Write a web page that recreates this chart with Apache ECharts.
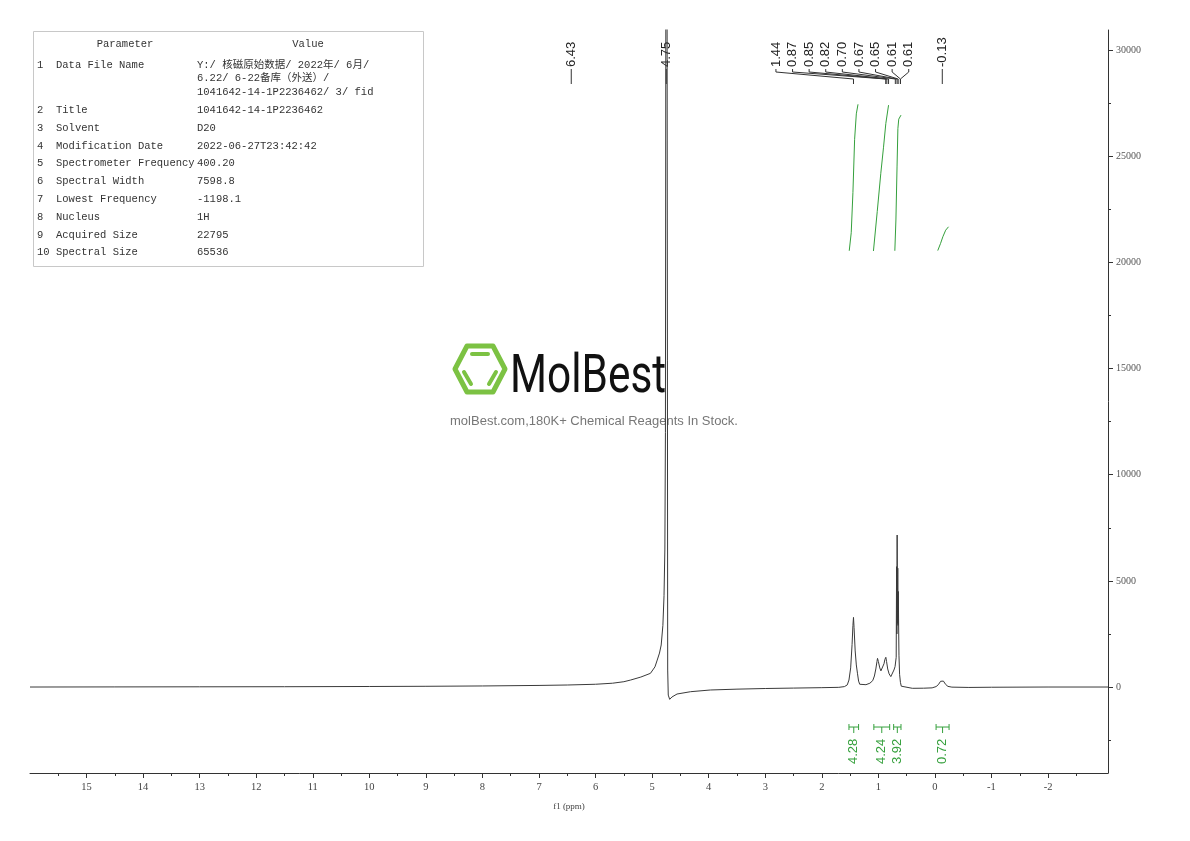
<!DOCTYPE html>
<html>
<head>
<meta charset="utf-8">
<script src="https://cdn.jsdelivr.net/npm/echarts@6/dist/echarts.min.js"></script>
<style>
  html, body { margin: 0; padding: 0; background: #fff; }
  #main { width: 1190px; height: 841px; }
</style>
</head>
<body>
<div id="main"></div>
<script>
// 1H trace: chemical shift (ppm) and intensity
const shift = [
  16.0, 14.5, 13.0, 11.5, 10.0, 9.0, 8.0, 7.0, 6.5, 6.0, 5.7, 5.5, 5.38, 5.2, 5.03, 4.95, 4.91, 4.87, 4.84,
  4.81, 4.79, 4.775, 4.765, 4.755, 4.748, 4.742, 4.735, 4.725, 4.715, 4.69, 4.65, 4.56, 4.32, 3.97, 3.5,
  3.0, 2.5, 2.0, 1.7, 1.6, 1.55, 1.52, 1.49, 1.465, 1.45, 1.44, 1.43, 1.41, 1.39, 1.37, 1.35, 1.33, 1.30,
  1.22, 1.15, 1.10, 1.07, 1.045, 1.025, 1.015, 1.00, 0.975, 0.955, 0.94, 0.92, 0.90, 0.885, 0.868, 0.855,
  0.835, 0.81, 0.78, 0.75, 0.725, 0.705, 0.695, 0.685, 0.678, 0.673, 0.668, 0.662, 0.657, 0.652, 0.647,
  0.642, 0.636, 0.625, 0.61, 0.595, 0.56, 0.4, 0.2, 0.05, -0.02, -0.06, -0.10, -0.125, -0.15, -0.19,
  -0.23, -0.3, -0.6, -1.0, -2.0, -3.06
]
const intensity = [
  0, 5, 10, 15, 25, 35, 50, 75, 95, 130, 180, 250, 330, 470, 645, 950, 1270, 1600, 1980,
  2900, 4300, 6500, 12000, 40000, 200000, 200000, 30000, 800, -380, -580, -470, -330, -220, -140, -100,
  -70, -50, -30, -15, 20, 100, 330, 900, 2000, 2900, 3280, 2800, 1700, 1040, 650, 280, 130, 80,
  110, 180, 300, 520, 850, 1200, 1350, 1200, 900, 760, 720, 850, 1100, 1300, 1400, 1200,
  850, 620, 490, 560, 800, 960, 900, 1400, 5670, 2500, 7160, 3000, 5600, 2900, 4500,
  2920, 1500, 600, 220, 40, -50, -60, -55, -40, 20, 110, 270, 330, 280, 120,
  30, -5, -20, -10, 0, 0
]

// integral curves (green traces above the peaks)
const int1Shift = [1.515, 1.48, 1.45, 1.42, 1.39, 1.36]
const int1Height = [20550, 21400, 23300, 25800, 27000, 27450]
const int2Shift = [1.087, 1.02, 0.957, 0.91, 0.868, 0.82]
const int2Height = [20540, 22400, 24200, 25400, 26550, 27410]
const int3Shift = [0.709, 0.69, 0.67, 0.655, 0.64, 0.60]
const int3Height = [20550, 22000, 24500, 26300, 26750, 26940]
const int4Shift = [-0.05, -0.10, -0.14, -0.19, -0.24]
const int4Height = [20560, 20900, 21210, 21520, 21680]

// integration regions and their values
const integFrom = [1.52, 1.08, 0.73, -0.02]
const integTo = [1.35, 0.80, 0.60, -0.25]
const integValue = ['4.28', '4.24', '3.92', '0.72']

// peak picking labels
const peakLabels = ['6.43', '4.75', '1.44', '0.87', '0.85', '0.82', '0.70', '0.67', '0.65', '0.61', '0.61', '-0.13']

// axis ticks
const ppmTicks = [15, 14, 13, 12, 11, 10, 9, 8, 7, 6, 5, 4, 3, 2, 1, 0, -1, -2]
const ppmMinorTicks = [15.5, 14.5, 13.5, 12.5, 11.5, 10.5, 9.5, 8.5, 7.5, 6.5, 5.5, 4.5, 3.5, 2.5, 1.5, 0.5, -0.5, -1.5, -2.5]
const intTicks = [0, 5000, 10000, 15000, 20000, 25000, 30000]
const intMinorTicks = [-2500, 2500, 7500, 12500, 17500, 22500, 27500]

// parameter table
const paramNames = ['Data File Name', 'Title', 'Solvent', 'Modification Date', 'Spectrometer Frequency',
  'Spectral Width', 'Lowest Frequency', 'Nucleus', 'Acquired Size', 'Spectral Size']
const paramValues = [
  'Y:/ 核磁原始数据/ 2022年/ 6月/\n6.22/ 6-22备库（外送）/\n1041642-14-1P2236462/ 3/ fid',
  '1041642-14-1P2236462', 'D20', '2022-06-27T23:42:42', '400.20', '7598.8', '-1198.1', '1H', '22795', '65536'
]

const xMin = -3.06
const xMax = 16.0
const yMin = -4050
const yMax = 30950
const green = '#35a03c'
const ink = '#333'
const serif = '"Liberation Serif", "DejaVu Serif", serif'
const sans = '"Liberation Sans", Arial, sans-serif'
const mono = '"Liberation Mono", "Noto Sans CJK SC", monospace'

const pairs = (xs, ys) => xs.map((x, i) => [x, ys[i]])

// parameter table + watermark
function buildGraphic () {
  const els = [{ type: 'rect', shape: { x: 33.5, y: 31.5, width: 390, height: 235 }, style: { fill: 'none', stroke: '#c8c8c8', lineWidth: 1 } }]
  const txt = (text, x, y, align) => ({
    type: 'text', x: x, y: y,
    style: { text: text, font: '10.5px ' + mono, fill: '#333', align: align || 'left', verticalAlign: 'middle' }
  })
  els.push(txt('Parameter', 125, 44, 'center'))
  els.push(txt('Value', 308, 44, 'center'))
  let y = 65
  paramNames.forEach((name, i) => {
    els.push(txt(String(i + 1), 37, y))
    els.push(txt(name, 56, y))
    const lines = paramValues[i].split('\n')
    lines.forEach((ln, j) => els.push(txt(ln, 197, y + j * 13.7)))
    y += (lines.length - 1) * 13.7 + 17.8
  })
  // MolBest logo
  const logoGreen = '#7cc243'
  els.push({ type: 'polygon', shape: { points: [[455, 369], [467, 346], [493, 346], [505, 369], [493, 392], [467, 392]] },
    style: { fill: 'none', stroke: logoGreen, lineWidth: 5, lineJoin: 'round' } })
  els.push({ type: 'line', shape: { x1: 472, y1: 354, x2: 488, y2: 354 }, style: { stroke: logoGreen, lineWidth: 4, lineCap: 'round' } })
  els.push({ type: 'line', shape: { x1: 464, y1: 372, x2: 471, y2: 384 }, style: { stroke: logoGreen, lineWidth: 4, lineCap: 'round' } })
  els.push({ type: 'line', shape: { x1: 496, y1: 372, x2: 489, y2: 384 }, style: { stroke: logoGreen, lineWidth: 4, lineCap: 'round' } })
  els.push({ type: 'text', x: 510, y: 405, scaleX: 0.8, scaleY: 1,
    style: { text: 'MolBest', font: '400 53px Roboto, sans-serif', fill: '#111', align: 'left', verticalAlign: 'bottom' } })
  els.push({ type: 'text', x: 594, y: 421,
    style: { text: 'molBest.com,180K+ Chemical Reagents In Stock.', font: '13px ' + sans, fill: '#777', align: 'center', verticalAlign: 'middle' } })
  return els
}

// peak labels on top, spread apart and tied back to their peaks
function renderPeakLabels (params, api) {
  const top = api.coord([xMax, yMax])[1]
  const gap = 16.6
  const px = peakLabels.map(t => api.coord([parseFloat(t), 0])[0])
  const pos = px.slice()
  let groups = []
  px.forEach((x, i) => {
    const g = groups[groups.length - 1]
    if (g && x - px[g[g.length - 1]] < gap) g.push(i)
    else groups.push([i])
  })
  const place = g => {
    const r = g[g.length - 1]
    const a = px[r] + (g.length > 1 ? gap / 2 : 0)
    g.forEach((idx, j) => { pos[idx] = a - (g.length - 1 - j) * gap })
  }
  let merged = true
  while (merged) {
    merged = false
    groups.forEach(place)
    for (let k = groups.length - 1; k > 0; k--) {
      const left = groups[k - 1]
      const right = groups[k]
      if (pos[left[left.length - 1]] > pos[right[0]] - gap) {
        groups.splice(k - 1, 2, left.concat(right))
        merged = true
        break
      }
    }
  }
  const children = []
  peakLabels.forEach((t, i) => {
    children.push({ type: 'text', x: pos[i], y: top + 37, rotation: Math.PI / 2,
      style: { text: t, fontSize: 13, fontFamily: sans, fill: '#222', align: 'left', verticalAlign: 'middle' } })
    children.push({ type: 'polyline',
      shape: { points: [[pos[i], top + 39], [pos[i], top + 42], [px[i], top + 49], [px[i], top + 54]] },
      style: { fill: 'none', stroke: '#333', lineWidth: 1 } })
  })
  return { type: 'group', children: children }
}

// integral brackets with their values below the baseline
function renderIntegral (params, api) {
  const x1 = api.coord([api.value(0), 0])[0]
  const x2 = api.coord([api.value(1), 0])[0]
  const base = api.coord([0, 0])[1] + 40
  const xc = (x1 + x2) / 2
  const st = { fill: 'none', stroke: green, lineWidth: 1 }
  return {
    type: 'group',
    children: [
      { type: 'polyline', shape: { points: [[x1, base - 3], [x1, base + 3]] }, style: st },
      { type: 'polyline', shape: { points: [[x2, base - 3], [x2, base + 3]] }, style: st },
      { type: 'polyline', shape: { points: [[x1, base], [x2, base]] }, style: st },
      { type: 'polyline', shape: { points: [[xc, base], [xc, base + 6]] }, style: st },
      { type: 'text', x: xc, y: base + 37, rotation: Math.PI / 2,
        style: { text: integValue[params.dataIndex], fontSize: 13, fontFamily: sans, fill: green, align: 'left', verticalAlign: 'middle' } }
    ]
  }
}

const integralLine = (xs, ys) => ({
  type: 'line', data: pairs(xs, ys), showSymbol: false, symbol: 'none', silent: true,
  lineStyle: { color: green, width: 1 }, xAxisIndex: 0, yAxisIndex: 0
})

const chart = echarts.init(document.getElementById('main'))
chart.setOption({
  animation: false,
  backgroundColor: '#fff',
  grid: { left: 30, right: 82, top: 30, bottom: 68 },
  graphic: buildGraphic(),
  xAxis: [
    {
      type: 'value', position: 'bottom', inverse: true, min: xMin, max: xMax,
      name: 'f1 (ppm)', nameLocation: 'middle', nameGap: 29,
      nameTextStyle: { fontFamily: serif, fontSize: 9, color: '#444' },
      axisLine: { show: true, onZero: false, lineStyle: { color: ink, width: 1 } },
      axisTick: { show: true, length: 5, customValues: ppmTicks, lineStyle: { color: ink } },
      axisLabel: { customValues: ppmTicks, margin: 9, fontFamily: serif, fontSize: 10.5, color: '#444', formatter: v => String(v) },
      splitLine: { show: false }
    },
    {
      // hidden twin axis that only carries the half-ppm minor ticks
      type: 'value', position: 'bottom', inverse: true, min: xMin, max: xMax,
      axisLine: { show: false, onZero: false },
      axisTick: { show: true, length: 3, customValues: ppmMinorTicks, lineStyle: { color: ink } },
      axisLabel: { show: false },
      splitLine: { show: false }
    }
  ],
  yAxis: [
    {
      type: 'value', position: 'right', min: yMin, max: yMax,
      axisLine: { show: true, onZero: false, lineStyle: { color: ink, width: 1 } },
      axisTick: { show: true, length: 5, customValues: intTicks, lineStyle: { color: ink } },
      axisLabel: { customValues: intTicks, margin: 8, fontFamily: serif, fontSize: 10, color: '#555', formatter: v => String(v) },
      splitLine: { show: false }
    },
    {
      type: 'value', position: 'right', min: yMin, max: yMax,
      axisLine: { show: false, onZero: false },
      axisTick: { show: true, length: 3, customValues: intMinorTicks, lineStyle: { color: ink } },
      axisLabel: { show: false },
      splitLine: { show: false }
    }
  ],
  series: [
    { type: 'custom', silent: true, data: [[0, 0]], renderItem: renderPeakLabels, xAxisIndex: 0, yAxisIndex: 0 },
    {
      type: 'line', data: pairs(shift, intensity), showSymbol: false, symbol: 'none', silent: true, clip: true,
      lineStyle: { color: '#3a3a3a', width: 1 }, xAxisIndex: 0, yAxisIndex: 0
    },
    integralLine(int1Shift, int1Height),
    integralLine(int2Shift, int2Height),
    integralLine(int3Shift, int3Height),
    integralLine(int4Shift, int4Height),
    {
      type: 'custom', silent: true, xAxisIndex: 0, yAxisIndex: 0,
      data: integFrom.map((f, i) => [f, integTo[i]]),
      renderItem: renderIntegral
    }
  ]
})
</script>
</body>
</html>
